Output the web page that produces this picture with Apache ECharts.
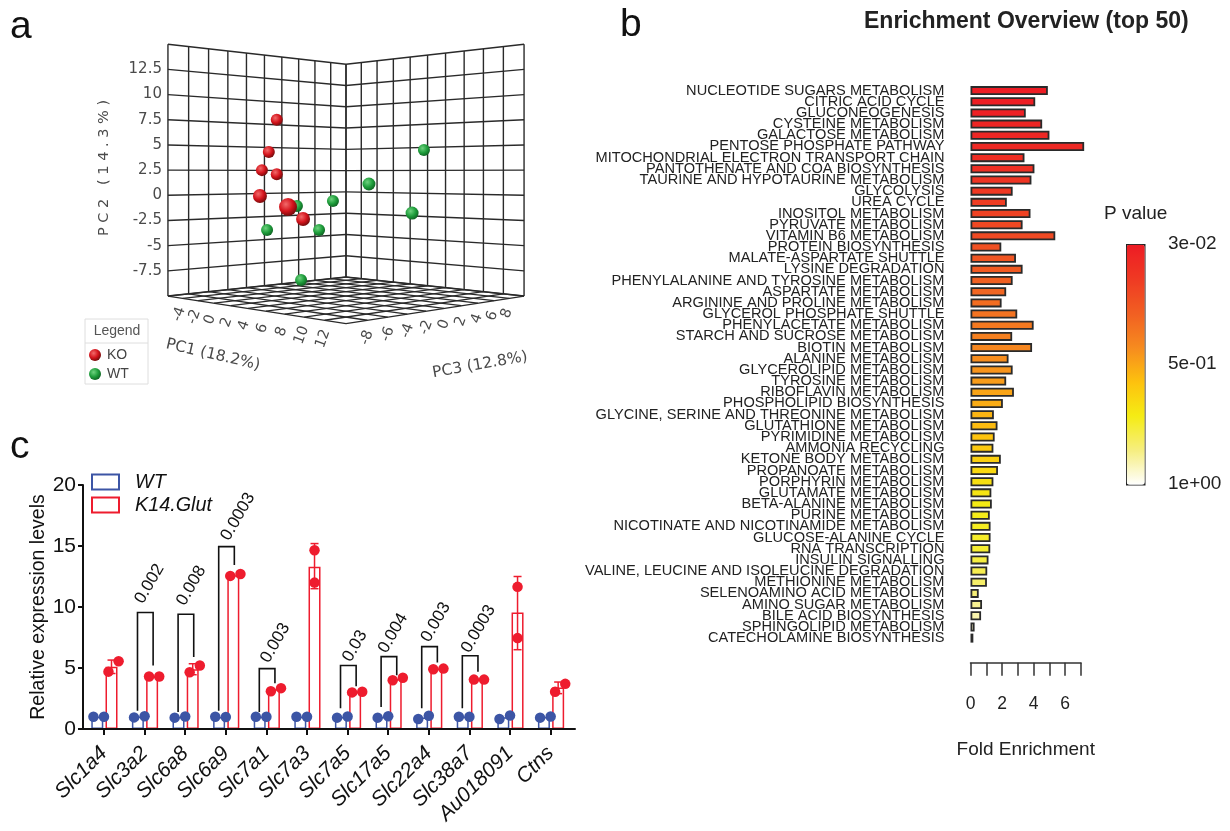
<!DOCTYPE html>
<html><head><meta charset="utf-8">
<style>html,body{margin:0;padding:0;background:#fff}#c{width:1230px;height:831px}</style>
<script src="https://cdn.jsdelivr.net/npm/echarts@6/dist/echarts.min.js"></script>
</head><body><div id="c"></div>
<script>
// ---------- panel a : PCA values
const koPC1=[0.5,0.1,-0.25,0.5,-0.35,1.07,1.83];
const koPC2=[7.5,4.3,2.5,2.1,-0.07,-1.16,-2.35];
const koPC3=[-3.5,-3.9,-4.25,-3.5,-4.35,-2.93,-2.17];
const koSize=[12,12,12,12,14,18,14];
const wtPC1=[7.94,5.16,7.34,3.34,2.64,1.52,0.01,1.73];
const wtPC2=[4.5,1.12,-1.76,-0.56,-3.44,-1.06,-3.44,-8.4];
const wtPC3=[3.94,1.16,3.34,-0.66,-1.36,-2.48,-3.99,-2.27];
const wtSize=[12,13,13,12,12,12,12,12];
const pc1Ticks=[-4,-2,0,2,4,6,8,10,12];
const pc2Ticks=[12.5,10,7.5,5,2.5,0,-2.5,-5,-7.5];
const pc3Ticks=[-8,-6,-4,-2,0,2,4,6,8];
// ---------- panel b : enrichment
const pathways=['NUCLEOTIDE SUGARS METABOLISM','CITRIC ACID CYCLE','GLUCONEOGENESIS','CYSTEINE METABOLISM','GALACTOSE METABOLISM','PENTOSE PHOSPHATE PATHWAY','MITOCHONDRIAL ELECTRON TRANSPORT CHAIN','PANTOTHENATE AND COA BIOSYNTHESIS','TAURINE AND HYPOTAURINE METABOLISM','GLYCOLYSIS','UREA CYCLE','INOSITOL METABOLISM','PYRUVATE METABOLISM','VITAMIN B6 METABOLISM','PROTEIN BIOSYNTHESIS','MALATE-ASPARTATE SHUTTLE','LYSINE DEGRADATION','PHENYLALANINE AND TYROSINE METABOLISM','ASPARTATE METABOLISM','ARGININE AND PROLINE METABOLISM','GLYCEROL PHOSPHATE SHUTTLE','PHENYLACETATE METABOLISM','STARCH AND SUCROSE METABOLISM','BIOTIN METABOLISM','ALANINE METABOLISM','GLYCEROLIPID METABOLISM','TYROSINE METABOLISM','RIBOFLAVIN METABOLISM','PHOSPHOLIPID BIOSYNTHESIS','GLYCINE, SERINE AND THREONINE METABOLISM','GLUTATHIONE METABOLISM','PYRIMIDINE METABOLISM','AMMONIA RECYCLING','KETONE BODY METABOLISM','PROPANOATE METABOLISM','PORPHYRIN METABOLISM','GLUTAMATE METABOLISM','BETA-ALANINE METABOLISM','PURINE METABOLISM','NICOTINATE AND NICOTINAMIDE METABOLISM','GLUCOSE-ALANINE CYCLE','RNA TRANSCRIPTION','INSULIN SIGNALLING','VALINE, LEUCINE AND ISOLEUCINE DEGRADATION','METHIONINE METABOLISM','SELENOAMINO ACID METABOLISM','AMINO SUGAR METABOLISM','BILE ACID BIOSYNTHESIS','SPHINGOLIPID METABOLISM','CATECHOLAMINE BIOSYNTHESIS'];
const foldEnrichment=[4.9,4.1,3.5,4.54,5.0,7.2,3.42,4.05,3.86,2.67,2.3,3.8,3.3,5.37,1.95,2.88,3.3,2.67,2.26,1.97,2.96,4.0,2.64,3.9,2.41,2.67,2.26,2.75,2.05,1.48,1.71,1.53,1.45,1.92,1.74,1.45,1.32,1.35,1.22,1.27,1.27,1.25,1.14,1.06,1.04,0.52,0.73,0.67,0.26,0.18];
const pValues=[.03,.04,.05,.07,.08,.09,.11,.12,.14,.16,.18,.20,.22,.23,.25,.27,.29,.31,.33,.35,.37,.39,.41,.43,.45,.47,.49,.51,.53,.55,.57,.59,.61,.63,.66,.68,.70,.72,.73,.74,.75,.76,.78,.80,.83,.85,.88,.91,.94,.98];
const pTickValues=[0.03,0.515,1];
const pTickLabels=['3e-02','5e-01','1e+00'];
// ---------- panel c : expression
const genes=['Slc1a4','Slc3a2','Slc6a8','Slc6a9','Slc7a1','Slc7a3','Slc7a5','Slc17a5','Slc22a4','Slc38a7','Au018091','Ctns'];
const wtA=[1,.95,.93,1,1,1,.93,.93,.82,1,.82,.93];
const wtB=[1,1.05,1.03,.98,1,1,1.03,1.05,1.08,1,1.1,1.03];
const wtMean=[1,1,.98,.99,1,1,.98,.99,.95,1,.96,.98];
const glutA=[4.7,4.3,4.65,12.55,3.1,12.0,3.0,4.0,4.9,4.05,7.45,3.05];
const glutB=[5.55,4.3,5.2,12.7,3.35,14.65,3.05,4.2,4.95,4.05,11.65,3.7];
const glutMean=[5.1,4.3,4.9,12.6,3.25,13.3,3.03,4.1,4.93,4.05,9.55,3.4];
const errGenes=[0,2,5,10,11];
const errLow=[4.55,4.45,11.5,6.5,2.9];
const errHigh=[5.65,5.35,15.2,12.5,3.85];
const bracketGenes=[1,2,3,4,6,7,8,9];
const bracketLeft=[1.5,1.4,1.5,1.4,1.7,1.8,1.7,1.7];
const bracketTop=[9.55,9.4,14.95,4.95,5.2,5.93,6.75,6.0];
const bracketRight=[5.2,5.9,13.45,3.75,3.5,4.4,5.45,4.7];
const pLabels=['0.002','0.008','0.0003','0.003','0.03','0.004','0.003','0.0003'];
const pLabelY=[11.9,11.75,17.4,7.05,6.8,7.85,8.75,8.2];

// ---------- camera for the 3D box of panel a
const pc1Min=-5,pc1Max=13,pc2Min=-10,pc2Max=15,pc3Min=-9,pc3Max=9;
const F=972,D=7.72,CX=346,CY=173.4,EYE=0.974;
function project(p1,p2,p3){
  const a=(p1-(pc1Min+pc1Max)/2)/((pc1Max-pc1Min)/2), b=(p3-(pc3Min+pc3Max)/2)/((pc3Max-pc3Min)/2);
  const X=.7071*(a+b), Z=D+.7071*(b-a), Y=(p2-pc2Min)/(pc2Max-pc2Min)*2;
  return [CX+F*X/Z, CY+F*(EYE-Y)/Z];
}
const boxLines=[];
function seg(a,b,w){const p=project(...a),q=project(...b);boxLines.push([p[0],p[1],q[0],q[1],w]);}
for(let i=0;i<=10;i++){
  const u1=pc1Min+(pc1Max-pc1Min)*i/10,u2=pc2Min+(pc2Max-pc2Min)*i/10,u3=pc3Min+(pc3Max-pc3Min)*i/10;
  seg([pc1Min,u2,pc3Min],[pc1Min,u2,pc3Max],1.4);   // left wall, horizontals
  seg([pc1Min,u2,pc3Max],[pc1Max,u2,pc3Max],1.4);   // right wall, horizontals
  seg([pc1Min,pc2Min,u3],[pc1Min,pc2Max,u3],1.4);   // left wall, verticals
  seg([u1,pc2Min,pc3Max],[u1,pc2Max,pc3Max],1.4);   // right wall, verticals
  seg([pc1Min,pc2Min,u3],[pc1Max,pc2Min,u3],1.3);   // floor
  seg([u1,pc2Min,pc3Min],[u1,pc2Min,pc3Max],1.3);   // floor
}
const boxTexts=[];
const dim='"DejaVu Sans",sans-serif';
pc2Ticks.forEach(v=>{const p=project(pc1Min,v,pc3Min);boxTexts.push({x:p[0]-6,y:p[1],t:String(v),r:0,al:'right',f:'15px '+dim});});
pc1Ticks.forEach((v,i)=>{const p=project(v,pc2Min,pc3Min);boxTexts.push({x:p[0]+3-14*i/8,y:p[1]+17,t:String(v),r:70,al:'center',f:'14.5px '+dim});});
pc3Ticks.forEach((v,i)=>{const p=project(pc1Max,pc2Min,v);boxTexts.push({x:p[0]+9-18*i/8,y:p[1]+16,t:String(v),r:70,al:'center',f:'14.5px '+dim});});
boxTexts.push({x:104,y:168,t:'P C 2   ( 1 4 . 3 % )',r:90,al:'center',f:'14.5px '+dim});
boxTexts.push({x:213,y:355,t:'PC1 (18.2%)',r:-13,al:'center',f:'15.5px '+dim});
boxTexts.push({x:480,y:365,t:'PC3 (12.8%)',r:10,al:'center',f:'15.5px '+dim});

const ball=(c1,c2,c3)=>({type:'radial',x:.38,y:.35,r:.7,colorStops:[{offset:0,color:c1},{offset:.55,color:c2},{offset:1,color:c3}]});
const redBall=ball('#f26a6a','#d4141c','#6a0a0a'), greenBall=ball('#6fd27f','#1f9e3c','#0d5f20');
const sans='"Liberation Sans",Arial,sans-serif';
const BLUE='#3c55a5',RED='#ee1c2e';
const GW=-.165,GK=.185; // bar offsets around a tick

const xPos=genes.map((g,i)=>i);
const option={
  animation:false,backgroundColor:'#fff',
  title:[
    {text:'a',left:5,top:3,textStyle:{fontFamily:sans,fontWeight:'normal',fontSize:39,color:'#111'}},
    {text:'b',left:615,top:1,textStyle:{fontFamily:sans,fontWeight:'normal',fontSize:39,color:'#111'}},
    {text:'c',left:5,top:423,textStyle:{fontFamily:sans,fontWeight:'normal',fontSize:39,color:'#111'}},
    {text:'Enrichment Overview (top 50)',left:859,top:5,textStyle:{fontFamily:sans,fontWeight:'bold',fontSize:23,color:'#222'}},
    {text:'P value',left:1099,top:199,textStyle:{fontFamily:sans,fontWeight:'normal',fontSize:19,color:'#222'}}
  ],
  legend:[
    {data:['KO','WT'],orient:'vertical',left:84,top:343,itemWidth:12,itemHeight:12,itemGap:5,icon:'circle',selectedMode:false,
     textStyle:{fontFamily:sans,fontSize:14,color:'#444',padding:[0,0,0,1]}},
    {data:['WT ','K14.Glut'],orient:'vertical',left:86,top:467,itemWidth:27,itemHeight:15,itemGap:3,icon:'rect',selectedMode:false,
     formatter:n=>n.trim(),textStyle:{fontFamily:sans,fontStyle:'italic',fontSize:19.8,color:'#111',padding:[0,0,0,11]}}
  ],
  graphic:[
    {type:'rect',silent:true,z:-1,shape:{x:85,y:319,width:63,height:65},style:{fill:'#fff',stroke:'#dedede',lineWidth:1}},
    {type:'line',silent:true,z:-1,shape:{x1:85,y1:343,x2:148,y2:343},style:{stroke:'#dedede',lineWidth:1}},
    {type:'text',silent:true,x:117,y:331,style:{text:'Legend',align:'center',verticalAlign:'middle',font:'14px '+sans,fill:'#555'}}
  ],
  grid:[
    {left:0,top:0,width:1230,height:831},
    {left:970.5,top:85,width:110.5,height:558.7},
    {left:1126,top:244,width:18,height:240},
    {left:83,top:485,width:492,height:244}
  ],
  xAxis:[
    {gridIndex:0,type:'value',min:0,max:1230,show:false},
    {gridIndex:1,type:'value',min:0,max:7,interval:1,position:'bottom',offset:19,splitLine:{show:false},
     name:'Fold Enrichment',nameLocation:'middle',nameGap:78,nameTextStyle:{fontFamily:sans,fontSize:19,color:'#222'},
     axisLine:{show:true,lineStyle:{color:'#333',width:1.5}},axisTick:{show:true,length:13,lineStyle:{color:'#333',width:1.5}},
     axisLabel:{margin:32,fontFamily:sans,fontSize:17.5,color:'#222',formatter:v=>v%2===0?String(v):''}},
    {gridIndex:2,type:'value',min:0,max:1,show:false},
    {gridIndex:3,type:'value',z:10,min:-.517,max:11.6,splitLine:{show:false},
     axisLine:{show:true,onZero:false,lineStyle:{color:'#111',width:2}},
     axisTick:{show:true,length:6,customValues:xPos,lineStyle:{color:'#111',width:2}},
     axisLabel:{customValues:xPos,rotate:45,margin:21,fontFamily:sans,fontStyle:'italic',fontSize:21,color:'#111',formatter:v=>genes[v]||''}}
  ],
  yAxis:[
    {gridIndex:0,type:'value',min:0,max:831,inverse:true,show:false},
    {gridIndex:1,type:'category',data:pathways,inverse:true,axisLine:{show:false},axisTick:{show:false},
     axisLabel:{interval:0,margin:26,padding:[2,0,0,0],fontFamily:sans,fontSize:14.6,color:'#222'}},
    {gridIndex:2,type:'value',min:.03,max:1,inverse:true,position:'right',splitLine:{show:false},axisLine:{show:false},axisTick:{show:false},
     axisLabel:{customValues:pTickValues,margin:24,padding:[3,0,0,0],fontFamily:sans,fontSize:19,color:'#222',
       formatter:v=>pTickLabels[pTickValues.indexOf(v)]||''}},
    {gridIndex:3,type:'value',z:10,min:0,max:20,interval:5,splitLine:{show:false},
     name:'Relative expression levels',nameLocation:'middle',nameGap:32,nameTextStyle:{fontFamily:sans,fontSize:19.5,color:'#111'},
     axisLine:{show:true,onZero:false,lineStyle:{color:'#111',width:2}},axisTick:{show:true,length:5,lineStyle:{color:'#111',width:2}},
     axisLabel:{margin:7,fontFamily:sans,fontSize:21,color:'#111'}}
  ],
  visualMap:[{type:'continuous',seriesIndex:4,dimension:2,min:.03,max:1,inverse:true,calculable:false,left:1126,top:244,itemWidth:18,itemHeight:240,padding:0,
    borderColor:'#222',borderWidth:1.5,text:null,showLabel:false,
    inRange:{color:['#ED1C24','#EF3A23','#F15F22','#F68B1F','#FDC10E','#F5EC14','#F6EE80','#FFFFFF']}}],
  series:[
    // panel a
    {type:'custom',xAxisIndex:0,yAxisIndex:0,silent:true,z:1,data:boxLines,
     renderItem:(ps,api)=>{const p=api.coord([api.value(0),api.value(1)]),q=api.coord([api.value(2),api.value(3)]);
       return {type:'line',shape:{x1:p[0],y1:p[1],x2:q[0],y2:q[1]},style:{stroke:'#2a2a2a',lineWidth:api.value(4)}};}},
    {type:'custom',xAxisIndex:0,yAxisIndex:0,silent:true,z:1,data:boxTexts.map(t=>[t.x,t.y]),
     renderItem:(ps,api)=>{const t=boxTexts[ps.dataIndex],p=api.coord([t.x,t.y]);
       return {type:'text',x:p[0],y:p[1],rotation:t.r*Math.PI/180,style:{text:t.t,font:t.f,fill:'#4a4a4a',align:t.al,verticalAlign:'middle'}};}},
    {name:'WT',type:'scatter',xAxisIndex:0,yAxisIndex:0,silent:true,z:2,data:wtPC1.map((v,i)=>project(v,wtPC2[i],wtPC3[i])),
     symbolSize:(v,p)=>wtSize[p.dataIndex],itemStyle:{color:greenBall,opacity:1}},
    {name:'KO',type:'scatter',xAxisIndex:0,yAxisIndex:0,silent:true,z:3,data:koPC1.map((v,i)=>project(v,koPC2[i],koPC3[i])),
     symbolSize:(v,p)=>koSize[p.dataIndex],itemStyle:{color:redBall,opacity:1}},
    // panel b
    {type:'bar',xAxisIndex:1,yAxisIndex:1,silent:true,barWidth:9,clip:false,encode:{x:0,y:1},
     data:pathways.map((n,i)=>[foldEnrichment[i],n,pValues[i]]),itemStyle:{borderColor:'#2a2a2a',borderWidth:1.8}},
    // panel c
    {name:'WT ',type:'bar',xAxisIndex:3,yAxisIndex:3,silent:true,barWidth:12,barGap:'-100%',z:3,
     data:wtMean.map((v,i)=>[i+GW,v]),itemStyle:{color:'rgba(255,255,255,0)',borderColor:BLUE,borderWidth:1.5}},
    {name:'K14.Glut',type:'bar',xAxisIndex:3,yAxisIndex:3,silent:true,barWidth:12,barGap:'-100%',z:3,
     data:glutMean.map((v,i)=>[i+GK,v]),itemStyle:{color:'rgba(255,255,255,0)',borderColor:RED,borderWidth:1.5}},
    {type:'custom',xAxisIndex:3,yAxisIndex:3,silent:true,z:4,data:errGenes.map((g,i)=>[g+GK,errLow[i],errHigh[i]]),
     renderItem:(ps,api)=>{const x=api.value(0),l=api.coord([x,api.value(1)]),h=api.coord([x,api.value(2)]),st={stroke:RED,lineWidth:1.5};
       return {type:'group',children:[
         {type:'line',shape:{x1:l[0],y1:l[1],x2:h[0],y2:h[1]},style:st},
         {type:'line',shape:{x1:l[0]-4,y1:l[1],x2:l[0]+4,y2:l[1]},style:st},
         {type:'line',shape:{x1:h[0]-4,y1:h[1],x2:h[0]+4,y2:h[1]},style:st}]};}},
    {type:'custom',xAxisIndex:3,yAxisIndex:3,silent:true,z:4,data:bracketGenes.map((g,i)=>[g,bracketLeft[i],bracketTop[i],bracketRight[i]]),
     renderItem:(ps,api)=>{const g=api.value(0),a=api.coord([g-.175,api.value(1)]),b=api.coord([g-.175,api.value(2)]),c=api.coord([g+.21,api.value(2)]),d=api.coord([g+.21,api.value(3)]);
       return {type:'polyline',shape:{points:[a,b,c,d]},style:{stroke:'#111',lineWidth:1.6,fill:null}};}},
    {type:'scatter',xAxisIndex:3,yAxisIndex:3,silent:true,z:5,symbolSize:10.5,itemStyle:{color:BLUE,opacity:1},
     data:wtA.flatMap((v,i)=>[[i-.26,v],[i,wtB[i]]])},
    {type:'scatter',xAxisIndex:3,yAxisIndex:3,silent:true,z:5,symbolSize:10.5,itemStyle:{color:RED,opacity:1},
     data:glutA.flatMap((v,i)=>{const far=glutB[i]-v>2;return [[i+(far?GK:.11),v],[i+(far?GK:.36),glutB[i]]];})},
    {type:'custom',xAxisIndex:3,yAxisIndex:3,silent:true,z:6,data:bracketGenes.map((g,i)=>[g+[.12,.15,.3,.22,.18,.12,.17,.22][i],pLabelY[i]]),
     renderItem:(ps,api)=>{const p=api.coord([api.value(0),api.value(1)]);
       return {type:'text',x:p[0],y:p[1],rotation:60*Math.PI/180,style:{text:pLabels[ps.dataIndex],font:'17px '+sans,fill:'#111',align:'center',verticalAlign:'middle'}};}}
  ]
};
const chart=echarts.init(document.getElementById('c'),null,{renderer:'canvas',width:1230,height:831});
chart.setOption(option);
</script></body></html>
